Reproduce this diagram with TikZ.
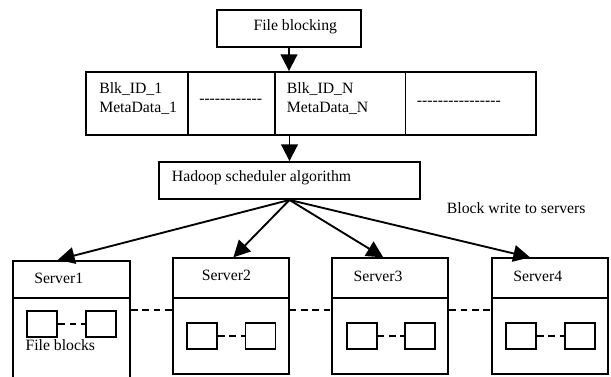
\documentclass[tikz,border=0pt]{standalone}
\usepackage{fontspec}
\setmainfont{Liberation Serif}
\usetikzlibrary{arrows.meta}
% a run of plain hyphens, kept apart so they never join into dashes
\newcommand\hyphenrun[1]{\foreach \i in {1,...,#1}{-\kern0pt}}

\begin{document}
\begin{tikzpicture}[x=0.75pt,y=-0.75pt,
  box/.style={draw, line width=1.4pt, rectangle, inner sep=0pt},
  sz/.style 2 args={minimum width=#1*0.75pt, minimum height=#2*0.75pt},
  txt/.style={inner sep=0pt, anchor=west, align=left,
              font=\fontsize{11.8}{14.25}\selectfont},
  arr/.style={line width=1.4pt, -{Triangle[length=12.5pt,width=12.5pt]}},
  dashline/.style={line width=1.4pt, dash pattern=on 5pt off 3.5pt},
]
\useasboundingbox (0,0) rectangle (611,376);
\clip (0,0) rectangle (611,376);

% file blocking stage
\node[box, sz={144}{37}] (fb) at (289,28.5) {};
\node[txt] (fbt) at (253.3,26.5) {File blocking};

% block table
\node[box, sz={101.7}{63}] (c1) at (136.85,103.5) {};
\node[box, sz={87.3}{63}]  (c2) at (231.35,103.5) {};
\node[box, sz={130.5}{63}] (c3) at (340.25,103.5) {};
\node[box, sz={130.5}{63}] (c4) at (470.75,103.5) {};
\node[txt] (c1t) at (99,98.5) {Blk\_ID\_1\\MetaData\_1};
\node[txt] (c2t) at (199,101.6) {\hyphenrun{12}};
\node[txt] (c3t) at (286.7,98.5) {Blk\_ID\_N\\MetaData\_N};
\node[txt] (c4t) at (416.7,103.6) {\hyphenrun{16}};

% scheduler
\node[box, sz={261}{37}] (hs) at (289.5,180.5) {};
\node[txt] (hst) at (171.7,178) {Hadoop scheduler algorithm};

\node[txt] (bw) at (446.7,208.3) {Block write to servers};

% servers: header and body
\node[box, sz={116.7}{37.6}] (s1h) at (71.65,279.5) {};
\node[box, sz={116.7}{83.7}] (s1b) at (71.65,340.15) {};
\foreach \n/\cx in {2/230.7,3/390.3,4/550.3}{
  \node[box, sz={116}{40}]   (s\n h) at (\cx,278.3) {};
  \node[box, sz={116}{75.7}] (s\n b) at (\cx,336.15) {};
}
\node[txt] (s1t) at (34,278) {Server1};
\node[txt] (s2t) at (201.7,275) {Server2};
\node[txt] (s3t) at (353.3,276) {Server3};
\node[txt] (s4t) at (513,276) {Server4};

% file blocks inside each server
\node[box, sz={30}{26}] (a1) at (42.3,323.7) {};
\node[box, sz={30}{26}] (b1) at (100.85,323.7) {};
\node[box, sz={30}{26}] (a2) at (202,336.2) {};
\node[box, sz={30}{26}] (b2) at (260.5,336.2) {};
\node[box, sz={30}{26}] (a3) at (361.7,336.3) {};
\node[box, sz={30}{26}] (b3) at (420,336.3) {};
\node[box, sz={30}{26}] (a4) at (521,336.3) {};
\node[box, sz={30}{26}] (b4) at (579.7,336.3) {};
\foreach \n in {1,...,4}{
  \draw[dashline] (a\n.east) -- (b\n.west);
}
\node[txt] (fbl) at (25.3,345) {File blocks};

% links between servers
\draw[dashline] ([yshift=-9.5pt]s1b.north east) -- ([yshift=-9.5pt]s2b.north west);
\draw[dashline] ([yshift=-9.5pt]s2b.north east) -- ([yshift=-9.5pt]s3b.north west);
\draw[dashline] ([yshift=-9.5pt]s3b.north east) -- ([yshift=-9.5pt]s4b.north west);

% flow arrows
\draw[arr] (fb.south) -- (fb.south |- c3.north);
\draw[arr] (hs.north |- c3.south) -- (hs.north);
\draw[arr] (hs.south) -- ([xshift=-10.3pt]s1h.north);
\draw[arr] (hs.south) -- ([xshift=2pt]s2h.north);
\draw[arr] (hs.south) -- ([xshift=-5.25pt]s3h.north);
\draw[arr] (hs.south) -- ([xshift=-15.2pt]s4h.north);
\end{tikzpicture}
\end{document}
